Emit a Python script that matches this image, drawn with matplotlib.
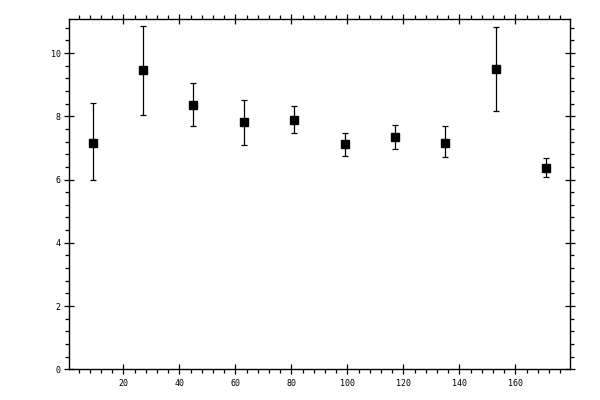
import matplotlib
matplotlib.use("Agg")
import matplotlib.pyplot as plt
from matplotlib.ticker import MultipleLocator

x = [9, 27, 45, 63, 81, 99, 117, 135, 153, 171]
y = [7.17, 9.46, 8.35, 7.81, 7.87, 7.11, 7.33, 7.17, 9.48, 6.38]
err_lo = [1.20, 1.43, 0.67, 0.73, 0.41, 0.35, 0.38, 0.46, 1.32, 0.31]
err_hi = [1.24, 1.39, 0.69, 0.70, 0.44, 0.35, 0.38, 0.51, 1.33, 0.29]

fig = plt.figure(figsize=(6, 4), dpi=100)
ax = fig.add_axes([0.1155, 0.0768, 0.8345, 0.8752])
ax.errorbar(x, y, yerr=[err_lo, err_hi], fmt='s', color='black', ms=5.2,
            elinewidth=0.9, capsize=2.2, capthick=0.9)
ax.set_xlim(0.7, 179.5)
ax.set_ylim(0, 11.07)
ax.xaxis.set_major_locator(MultipleLocator(20))
ax.xaxis.set_minor_locator(MultipleLocator(4))
ax.yaxis.set_major_locator(MultipleLocator(2))
ax.yaxis.set_minor_locator(MultipleLocator(0.4))
for s in ax.spines.values():
    s.set_linewidth(1.0)
ax.tick_params(which='major', direction='inout', length=7.5, width=0.9,
               top=True, right=True, labelsize=6, pad=2.5)
ax.tick_params(which='minor', direction='out', length=2.6, width=0.9,
               top=True, right=True)
ax.tick_params(axis='x', which='major', pad=3.5)
for lab in ax.get_xticklabels() + ax.get_yticklabels():
    lab.set_family('DejaVu Sans Mono')
fig.savefig('out.png', dpi=100)
